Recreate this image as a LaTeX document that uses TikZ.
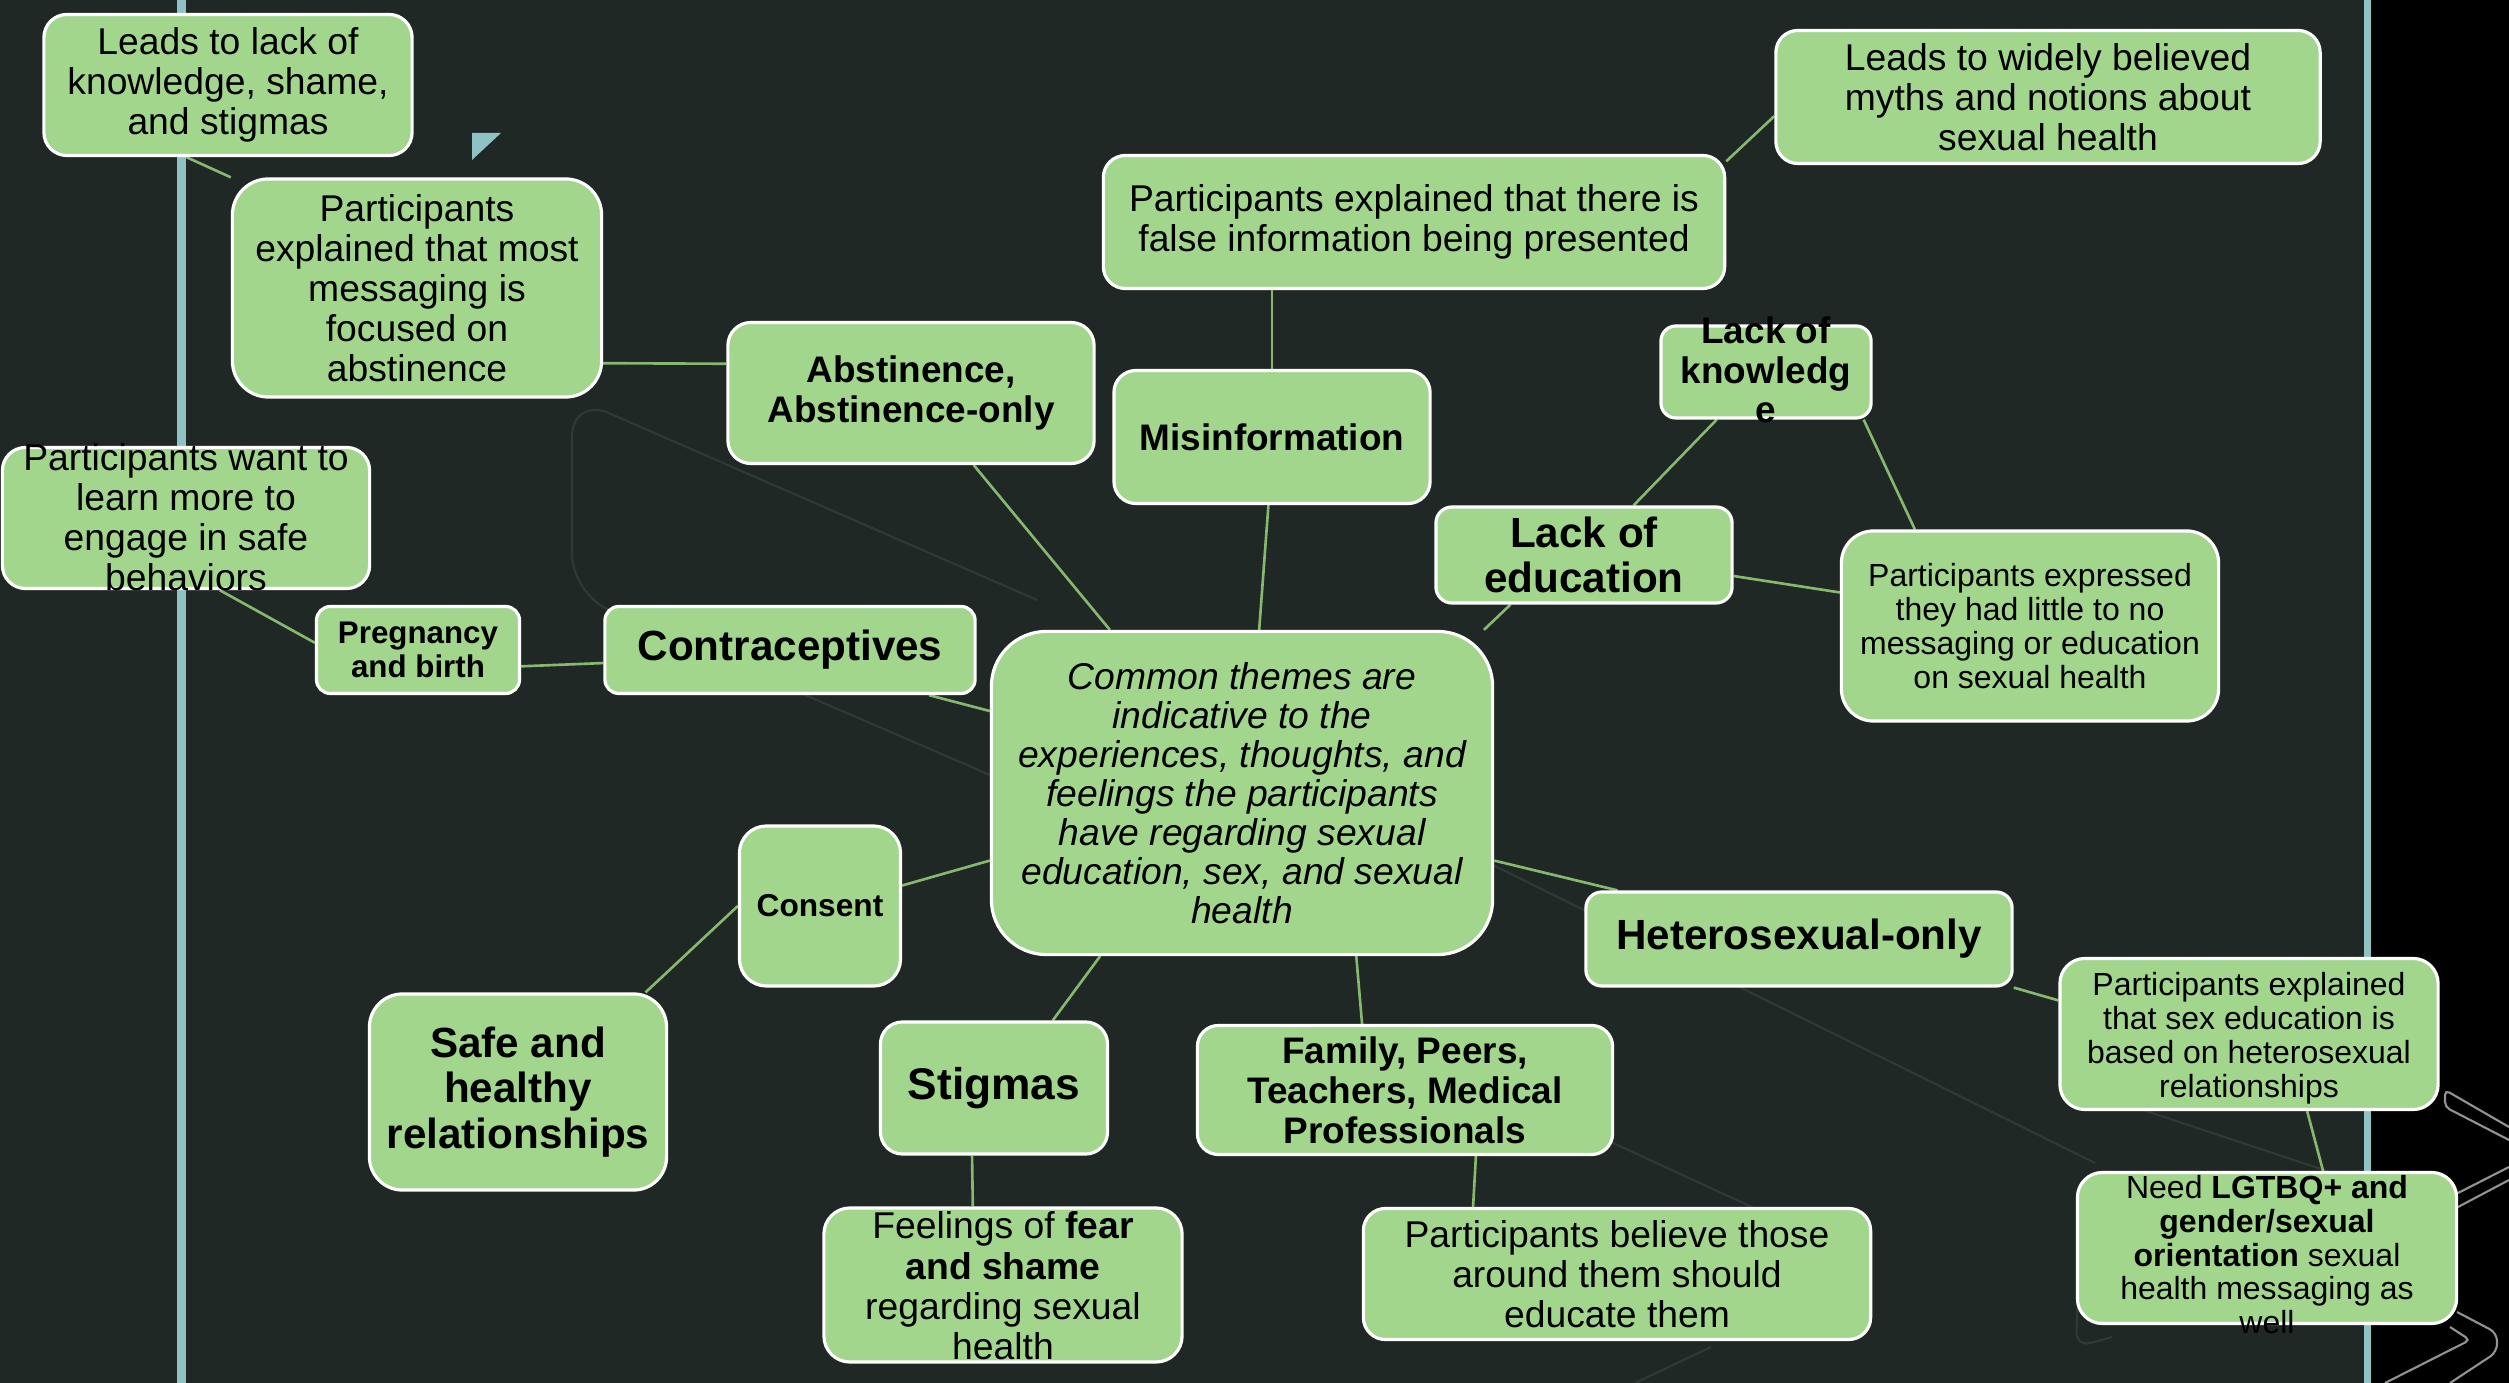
\documentclass[tikz,border=0pt]{standalone}
\usepackage{fontspec}
\setmainfont{Liberation Sans}
\usetikzlibrary{backgrounds}
\definecolor{bgdark}{HTML}{1F2824}
\definecolor{leaf}{HTML}{A3D68D}
\definecolor{twig}{HTML}{86B96F}
\definecolor{rail}{HTML}{8EC2C5}
\definecolor{ghost}{HTML}{303A35}
\newcommand{\spill}[2][0pt]{\raisebox{\dimexpr-0.25em-#1\relax}[0pt][0pt]{\begin{tabular}{@{}c@{}}#2\end{tabular}}}
\begin{document}
\begin{tikzpicture}[x=0.01cm,y=-0.01cm,
  box/.style={draw=white,line width=0.9pt,fill=leaf,rounded corners=#1,inner sep=0pt,align=center,text=black},
  box/.default=0.22cm,
  body/.style={font=\fontsize{10.6}{11.4}\selectfont},
  fine/.style={font=\fontsize{9.1}{9.6}\selectfont},
  head/.style={font=\linespread{1.08}\fontsize{#1}{#1}\selectfont\bfseries},
  link/.style={draw=twig,line width=0.75pt},
  ghostline/.style={draw=ghost,line width=0.6pt,rounded corners=0.4cm},
  chev/.style={draw=gray!85,line width=0.6pt,rounded corners=0.05cm}]
\useasboundingbox (0,0) rectangle (2509,1383);

\node[box=0.23cm,body,minimum width=3.68cm,minimum height=1.41cm] (lk) at (228,85) {Leads to lack of\\knowledge, shame,\\and stigmas};
\node[box=0.36cm,body,minimum width=3.69cm,minimum height=2.18cm] (pm) at (417,288) {Participants\\explained that most\\messaging is\\focused on\\abstinence};
\node[box=0.23cm,body,minimum width=3.67cm,minimum height=1.41cm] (pw) at (186,518) {\spill[1.4pt]{Participants want to\\learn more to\\engage in safe\\behaviors}};
\node[box=0.14cm,head=8.9,minimum width=2.03cm,minimum height=0.87cm] (pb) at (418,650) {Pregnancy\\and birth};
\node[box=0.14cm,head=12,minimum width=3.70cm,minimum height=0.87cm] (co) at (790,650) {Contraceptives};
\node[box=0.23cm,head=10.5,minimum width=3.66cm,minimum height=1.41cm] (ab) at (911,393) {Abstinence,\\Abstinence-only};
\node[box=0.22cm,head=10.5,minimum width=3.16cm,minimum height=1.33cm] (mi) at (1272,437) {Misinformation};
\node[box=0.22cm,body,minimum width=6.21cm,minimum height=1.33cm] (fi) at (1414,222) {Participants explained that there is\\false information being presented};
\node[box=0.22cm,body,minimum width=5.44cm,minimum height=1.33cm] (my) at (2048,97) {Leads to widely believed\\myths and notions about\\sexual health};
\node[box=0.15cm,head=10.5,minimum width=2.10cm,minimum height=0.92cm] (kn) at (1766,372) {\spill[1pt]{Lack of\\knowledg\\e}};
\node[box=0.16cm,head=12,minimum width=2.96cm,minimum height=0.96cm] (le) at (1584,555) {Lack of\\education};
\node[box=0.32cm,fine,minimum width=3.77cm,minimum height=1.90cm] (pe) at (2030,626) {Participants expressed\\they had little to no\\messaging or education\\on sexual health};
\node[box=0.55cm,font=\fontsize{10.6}{11.1}\selectfont\itshape,minimum width=5.01cm,minimum height=3.23cm] (cm) at (1242,793) {Common themes are\\indicative to the\\experiences, thoughts, and\\feelings the participants\\have regarding sexual\\education, sex, and sexual\\health};
\node[box=0.27cm,head=9,minimum width=1.61cm,minimum height=1.60cm] (cs) at (820,906) {Consent};
\node[box=0.33cm,head=12,minimum width=2.97cm,minimum height=1.96cm] (sf) at (518,1092) {Safe and\\healthy\\relationships};
\node[box=0.22cm,head=12.6,minimum width=2.27cm,minimum height=1.32cm] (st) at (994,1088) {Stigmas};
\node[box=0.26cm,body,minimum width=3.58cm,minimum height=1.54cm] (fe) at (1003,1285) {\spill[1.8pt]{Feelings of \textbf{fear}\\\textbf{and shame}\\regarding sexual\\health}};
\node[box=0.21cm,head=10.5,minimum width=4.15cm,minimum height=1.29cm] (fa) at (1405,1090) {Family, Peers,\\Teachers, Medical\\Professionals};
\node[box=0.22cm,body,minimum width=5.07cm,minimum height=1.31cm] (bl) at (1617,1274) {Participants believe those\\around them should\\educate them};
\node[box=0.16cm,head=12,minimum width=4.26cm,minimum height=0.94cm] (ht) at (1799,939) {Heterosexual-only};
\node[box=0.25cm,fine,minimum width=3.78cm,minimum height=1.51cm] (ps) at (2249,1034) {\spill[1.6pt]{Participants explained\\that sex education is\\based on heterosexual\\relationships}};
\node[box=0.25cm,fine,minimum width=3.79cm,minimum height=1.51cm] (lg) at (2267,1248) {\spill[3.2pt]{Need \textbf{LGTBQ+ and}\\\textbf{gender/sexual}\\\textbf{orientation} sexual\\health messaging as\\well}};

\begin{scope}[on background layer]
\fill[bgdark] (0,0) rectangle (2370,1383);
\fill[black] (2370,0) rectangle (2509,1383);
\fill[rail] (177,0) rectangle (186,1383);
\fill[rail] (2364,0) rectangle (2371,1383);
\fill[rail] (472,133) -- (501,133) -- (472,160) -- cycle;

\draw[ghostline] (1037,600) -- (572,397) -- (572,594) -- (990,775);
\draw[ghostline] (1493,865) -- (2095,1163);
\draw[ghostline,rounded corners=0.15cm] (2078,1290) -- (2076,1347) -- (2112,1337);
\draw[ghostline] (1600,1137) -- (1780,1220);
\draw[ghostline] (1711,1347) -- (1635,1383);
\draw[ghostline] (2140,1109) -- (2330,1172);

\draw[chev] (2509,1127) -- (2445,1090) -- (2445,1107) -- (2509,1140);
\draw[chev] (2458,1193) -- (2509,1167);
\draw[chev] (2458,1207) -- (2509,1180);
\draw[chev,rounded corners=0.08cm] (2457,1312) -- (2497,1333) -- (2497,1352) -- (2450,1383);
\draw[chev] (2450,1327) -- (2470,1340) -- (2385,1383);

\draw[link] (lk.240) -- (pm.north west);
\draw[link] (pm.-22.7) -- (ab.171.3);
\draw[link] (ab.-49.6) -- (cm.129.7);
\draw[link] (mi.267) -- (cm.84.7);
\draw[link] (mi.north |- fi.south) -- (mi.north);
\draw[link] (fi.11.3) -- (my.184.8);
\draw[link] (kn.224.4) -- (le.45.6);
\draw[link] (kn.-26.6) -- (pe.140.4);
\draw[link] (le.-8.8) -- (pe.170.7);
\draw[link] (le.214) -- (cm.34.9);
\draw[link] (co.-18) -- (cm.162.5);
\draw[link] (pb.-9) -- (co.184.9);
\draw[link] (pw.-65.6) -- (pb.176.6);
\draw[link] (cs.14.6) -- (cm.195);
\draw[link] (cs.west) -- (sf.38.5);
\draw[link] (cm.229.9) -- (st.49.7);
\draw[link] (st.252.4) -- (fe.111.3);
\draw[link] (cm.-55.7) -- (fa.123.7);
\draw[link] (fa.-43.1) -- (bl.155.4);
\draw[link] (cm.-15.2) -- (ht.165.3);
\draw[link] (ht.south east) -- (ps.170.7);
\draw[link] (ps.-53.9) -- (lg.54.9);
\end{scope}
\end{tikzpicture}
\end{document}
